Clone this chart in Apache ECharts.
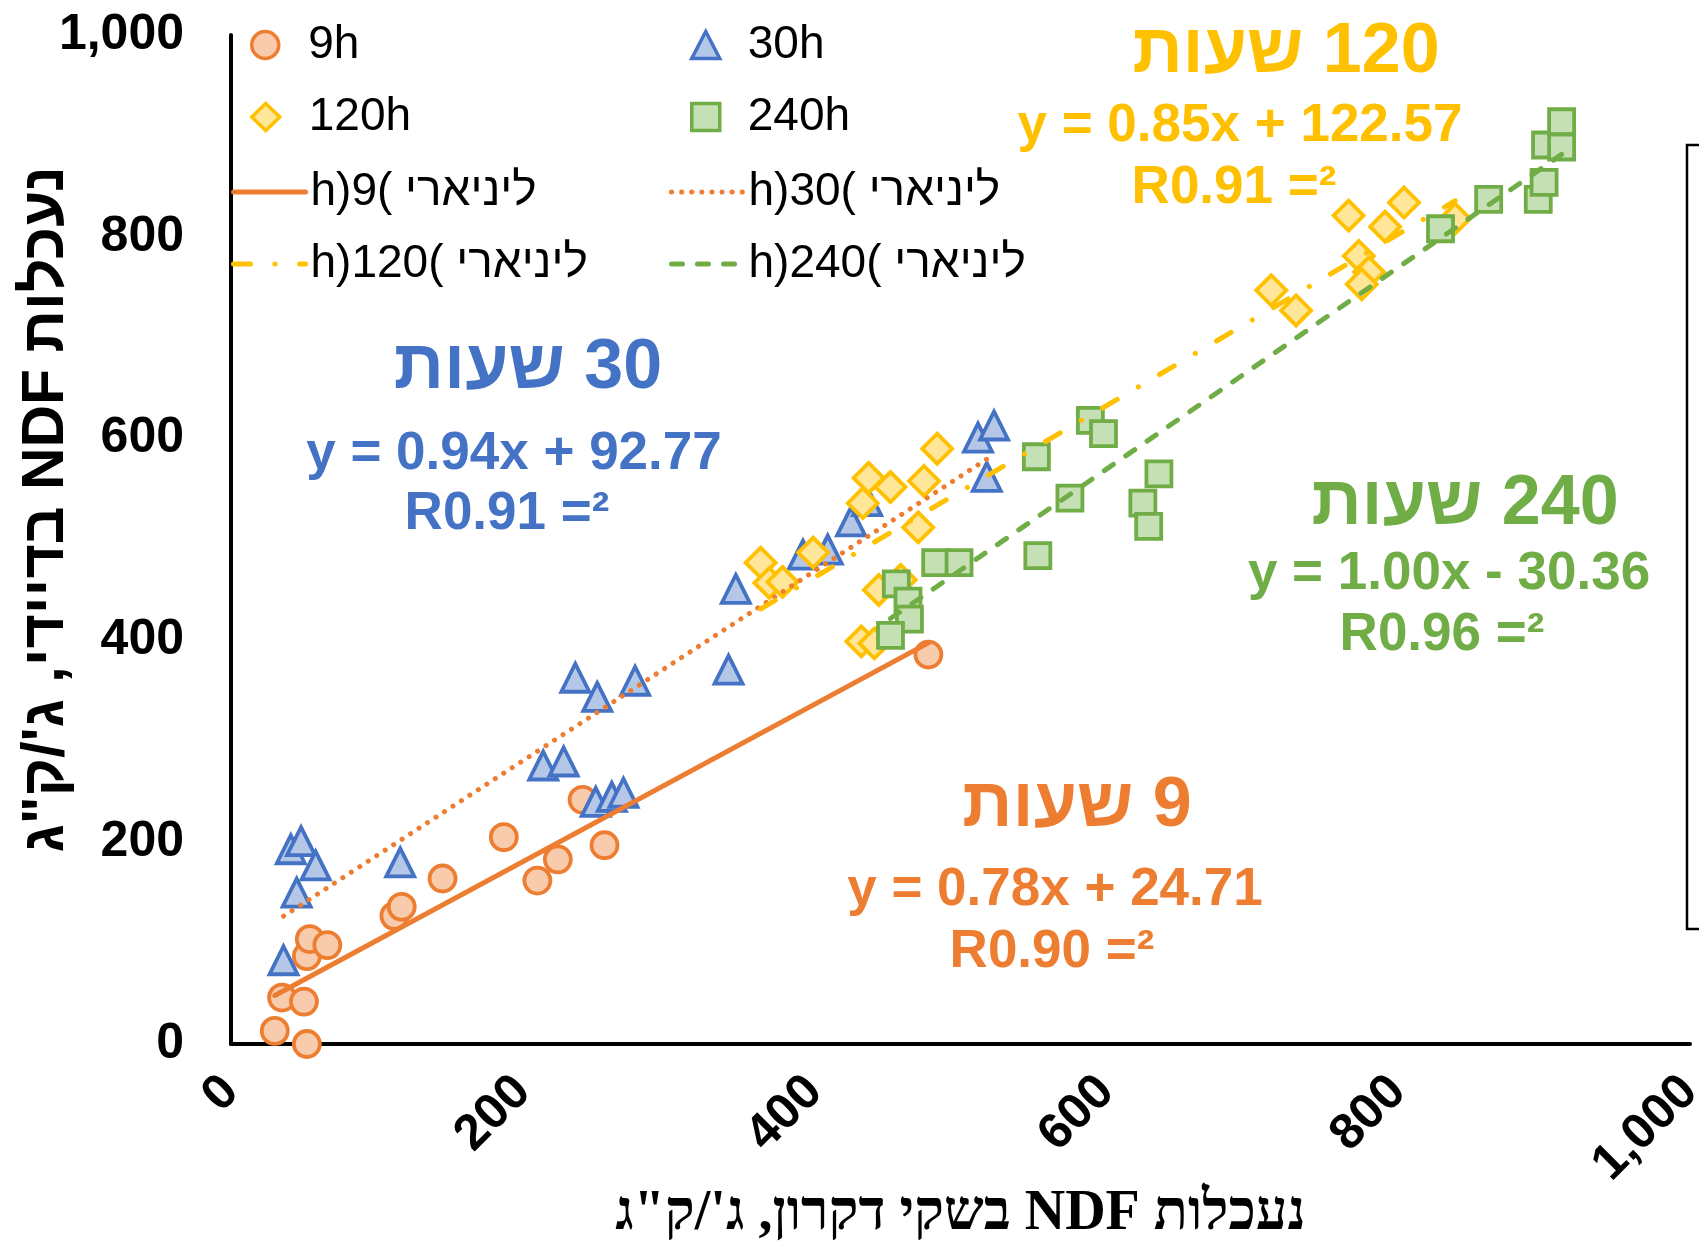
<!DOCTYPE html>
<html>
<head>
<meta charset="utf-8">
<script src="https://cdn.jsdelivr.net/npm/echarts@6/dist/echarts.min.js"></script>
<style>
  html, body { margin: 0; padding: 0; background: #fff; }
  #chart { width: 1699px; height: 1242px; }
</style>
</head>
<body>
<div id="chart"></div>
<script>
// Incubation times (hours) and series names
const hours = [9, 30, 120, 240];
const seriesNames = ['9h', '30h', '120h', '240h'];
const trendNames = ['h)9( ליניארי', 'h)30( ליניארי', 'h)120( ליניארי', 'h)240( ליניארי'];

// NDF digestibility: Dacron bags (x) vs. incubator (y), g/kg
const h9X = [30, 52, 35, 50, 52, 54, 66, 112, 117, 145, 187, 210, 224, 241, 256, 478];
const h9Y = [13, 0, 46, 42, 87, 104, 98, 127, 136, 164, 205, 162, 183, 242, 197, 386];

const h30X = [36, 45, 41, 48, 58, 116, 214, 228, 250, 261, 269, 236, 251, 277, 341, 346, 392, 409, 425, 436, 512, 523, 518];
const h30Y = [83, 150, 193, 201, 177, 180, 276, 280, 240, 245, 249, 363, 344, 360, 371, 451, 485, 490, 518, 538, 601, 613, 562];

const h120X = [363, 369, 378, 399, 433, 437, 452, 475, 484, 471, 444, 459, 432, 441, 713, 730, 766, 791, 804, 773, 780, 775, 839];
const h120Y = [477, 457, 458, 487, 536, 561, 552, 558, 590, 512, 450, 460, 399, 397, 747, 727, 821, 810, 834, 781, 765, 753, 818];

const h240X = [552, 589, 598, 636, 625, 629, 575, 553, 483, 499, 456, 464, 465, 452, 829, 862, 896, 900, 901, 912, 912];
const h240Y = [582, 618, 605, 565, 536, 513, 541, 484, 477, 477, 456, 439, 421, 405, 808, 837, 837, 854, 891, 914, 889];

// Linear fits: y = slope * x + intercept, with R²
const trendSlope = [0.78, 0.94, 0.85, 1.00];
const trendIntercept = [24.71, 92.77, 122.57, -30.36];
const trendR2 = [0.90, 0.91, 0.91, 0.96];

// Axis scale (both axes)
const axisMin = 0, axisMax = 1000, axisStep = 200;

// Axis titles
const xTitle = 'נעכלות NDF בשקי דקרון, ג\'/ק"ג';
const yTitle = 'נעכלות NDF בדיידי, ג\'/ק"ג';

const xs = [h9X, h30X, h120X, h240X];
const ys = [h9Y, h30Y, h120Y, h240Y];

// ---------- styling ----------
const SANS = '"Liberation Sans", Arimo, Arial, sans-serif';
const SERIF = '"Liberation Serif", Tinos, "Times New Roman", serif';
const RLE = '\u202B', PDF = '\u202C';
const rtl = s => RLE + s + PDF;

const markerStyle = [
  { stroke: '#ED7D31', fill: '#F8CBAD', symbol: 'circle',   size: 26 },
  { stroke: '#4472C4', fill: '#B4C7E7', symbol: 'triangle', size: 28 },
  { stroke: '#FFC000', fill: '#FFE699', symbol: 'diamond',  size: 30 },
  { stroke: '#70AD47', fill: '#C5E0B4', symbol: 'rect',     size: 25 }
];
const trendStyle = [
  { color: '#ED7D31', type: 'solid' },
  { color: '#ED7D31', type: [0.1, 10] },
  { color: '#FFC000', type: [17, 24.5, 0.1, 24.5] },
  { color: '#70AD47', type: [11, 15] }
];
const noteColor = ['#ED7D31', '#4472C4', '#FFC000', '#70AD47'];
// annotation anchor points (px): hour title, equation, R² line
const noteLayout = [
  { title: [1077, 807], eq: [1055, 890], r2: [1052, 952] },
  { title: [528, 369],  eq: [514, 454],  r2: [507, 514] },
  { title: [1286, 53],  eq: [1240, 126], r2: [1234, 188] },
  { title: [1465, 505], eq: [1449, 574], r2: [1442, 635] }
];
// legend slots (px): [left, rowCenterY, itemWidth, textOffset]
const legendSlots = {
  '9h':   [250, 45, 28, 24], '30h':  [690, 45, 28, 23],
  '120h': [250, 117, 28, 24], '240h': [690, 117, 28, 23],
  [trendNames[0]]: [231, 192, 72, 0], [trendNames[1]]: [669, 192, 72, 0],
  [trendNames[2]]: [231, 264, 72, 0], [trendNames[3]]: [669, 264, 72, 0]
};

const fmt = v => v.toLocaleString('en-US');

// ---------- series ----------
const series = [];
xs.forEach((xArr, i) => {
  series.push({
    name: seriesNames[i],
    type: 'scatter',
    z: 2,
    symbol: markerStyle[i].symbol,
    symbolSize: markerStyle[i].size,
    itemStyle: { color: markerStyle[i].fill, borderColor: markerStyle[i].stroke, borderWidth: 3.8, opacity: 1 },
    data: xArr.map((x, k) => [x, ys[i][k]]),
    silent: true
  });
});
xs.forEach((xArr, i) => {
  const x0 = Math.min(...xArr), x1 = Math.max(...xArr);
  const f = x => trendSlope[i] * x + trendIntercept[i];
  series.push({
    name: trendNames[i],
    type: 'line',
    z: 3,
    symbol: 'none',
    silent: true,
    lineStyle: { color: trendStyle[i].color, width: 5, type: trendStyle[i].type, cap: 'round' },
    itemStyle: { color: trendStyle[i].color },
    data: [[x0, f(x0)], [x1, f(x1)]]
  });
});

// ---------- legends (one block per entry) ----------
const legends = Object.keys(legendSlots).map(name => {
  const [left, cy, w, pad] = legendSlots[name];
  const isLine = trendNames.includes(name);
  return {
    data: [name],
    left: left,
    top: cy - 23,
    padding: 0,
    itemWidth: w,
    itemHeight: isLine ? 24 : 27,
    selectedMode: false,
    symbolKeepAspect: true,
    itemStyle: isLine ? { opacity: 0 } : { borderWidth: 3.5 },
    lineStyle: isLine ? { width: 5 } : undefined,
    textStyle: { fontSize: 46, lineHeight: 46, color: '#000', fontFamily: SANS, padding: [0, 0, 0, pad] }
  };
});

// ---------- annotations ----------
const graphics = [];
noteLayout.forEach((pos, i) => {
  const b = trendIntercept[i];
  const eq = 'y = ' + trendSlope[i].toFixed(2) + 'x ' + (b < 0 ? '- ' : '+ ') + Math.abs(b).toFixed(2);
  const r2 = 'R' + trendR2[i].toFixed(2) + ' =²';
  const items = [
    [rtl(hours[i] + ' שעות'), pos.title, 70],
    [eq, pos.eq, 53],
    [r2, pos.r2, 53]
  ];
  items.forEach(([text, p, size]) => {
    graphics.push({
      type: 'text', x: p[0], y: p[1], silent: true,
      style: { text: text, fill: noteColor[i], fontSize: size, fontWeight: 'bold', fontFamily: SANS, align: 'center', verticalAlign: 'middle' }
    });
  });
});
// framed box at the right edge
graphics.push({
  type: 'rect', silent: true,
  shape: { x: 1687, y: 145, width: 40, height: 784 },
  style: { fill: 'none', stroke: '#000', lineWidth: 2.5 }
});

const axisCommon = {
  type: 'value',
  min: axisMin, max: axisMax, interval: axisStep,
  splitLine: { show: false },
  axisTick: { show: false },
  axisLine: { show: true, lineStyle: { color: '#000', width: 4 } },
  nameMoveOverlap: false
};

const option = {
  animation: false,
  backgroundColor: '#fff',
  grid: { left: 231, right: 9, top: 35, bottom: 198, containLabel: false, outerBoundsMode: 'none' },
  xAxis: Object.assign({}, axisCommon, {
    name: rtl(xTitle),
    nameLocation: 'middle',
    nameGap: 143,
    nameTextStyle: { fontSize: 56, fontWeight: 'bold', color: '#000', fontFamily: SERIF },
    axisLabel: {
      rotate: 45, margin: 40,
      fontSize: 50, fontWeight: 'bold', color: '#000', fontFamily: SANS,
      formatter: fmt
    }
  }),
  yAxis: Object.assign({}, axisCommon, {
    name: rtl(yTitle),
    nameLocation: 'middle',
    nameGap: 155,
    nameTextStyle: { fontSize: 59, fontWeight: 'bold', color: '#000', fontFamily: SANS, padding: [0, 0, 0, 60] },
    axisLabel: {
      margin: 47, fontSize: 50, fontWeight: 'bold', color: '#000', fontFamily: SANS,
      formatter: fmt
    }
  }),
  legend: legends,
  series: series,
  graphic: graphics
};

const chart = echarts.init(document.getElementById('chart'), null, { renderer: 'canvas' });
chart.setOption(option);
</script>
</body>
</html>
